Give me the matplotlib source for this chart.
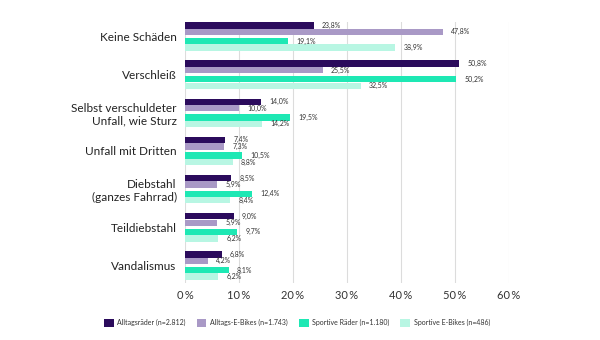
import matplotlib
matplotlib.use("Agg")
import matplotlib.pyplot as plt
from matplotlib.patches import Patch
import numpy as np

categories = ["Keine Schäden", "Verschleiß", "Selbst verschuldeter\nUnfall, wie Sturz",
              "Unfall mit Dritten", "Diebstahl\n(ganzes Fahrrad)", "Teildiebstahl", "Vandalismus"]
series_names = ["Alltagsräder (n=2.812)", "Alltags-E-Bikes (n=1.743)",
                "Sportive Räder (n=1.180)", "Sportive E-Bikes (n=486)"]
alltagsraeder = [23.8, 50.8, 14.0, 7.4, 8.5, 9.0, 6.8]
alltags_ebikes = [47.8, 25.5, 10.0, 7.3, 5.9, 5.9, 4.2]
sportive_raeder = [19.1, 50.2, 19.5, 10.5, 12.4, 9.7, 8.1]
sportive_ebikes = [38.9, 32.5, 14.2, 8.8, 8.4, 6.2, 6.2]
xticks = [0, 10, 20, 30, 40, 50, 60]

series = [alltagsraeder, alltags_ebikes, sportive_raeder, sportive_ebikes]
colors = ["#2b0b5c", "#a999c6", "#1ee8b4", "#b8f6e3"]
offsets = [-0.29, -0.12, 0.12, 0.29]
height = 0.165

plt.rcParams['font.family'] = ['Lato', 'DejaVu Sans']

fig = plt.figure(figsize=(6, 3.4), dpi=100)
ax = fig.add_axes([185/600, 1-283/340, (509-185)/600, (283-22)/340])

y = np.arange(len(categories))
for vals, c, off in zip(series, colors, offsets):
    ax.barh(y + off, vals, height=height, color=c, zorder=3)
    for yi, v in zip(y, vals):
        ax.annotate(f"{v:.1f}%".replace(".", ","), (v, yi + off), xytext=(6, 0),
                    textcoords="offset points", va="center", ha="left",
                    fontsize=5, color="#333333", zorder=4)

ax.set_xlim(0, 60)
ax.set_ylim(6.46, -0.38)
ax.set_xticks(xticks)
ax.set_xticklabels([f"{t}\u2009%" for t in xticks], fontsize=8, color="#333333")
ax.set_yticks(y)
ax.set_yticklabels(categories, fontsize=8.5, color="#222222", ha="right")
ax.tick_params(axis="both", length=0)
ax.tick_params(axis="y", pad=6)
ax.tick_params(axis="x", pad=5)
for s in ax.spines.values():
    s.set_visible(False)
ax.xaxis.grid(True, color="#dcdcdc", linewidth=0.8, zorder=0)
ax.set_axisbelow(True)

handles = [Patch(facecolor=c, edgecolor="none") for c in colors]
fig.legend(handles, series_names, loc="center", bbox_to_anchor=(297/600, 1-323/340),
           ncol=4, frameon=False, fontsize=5, handlelength=1.4, handleheight=1.4,
           handletextpad=0.5, columnspacing=1.6, labelcolor="#333333")

fig.savefig("out.png", dpi=100, facecolor="white")
